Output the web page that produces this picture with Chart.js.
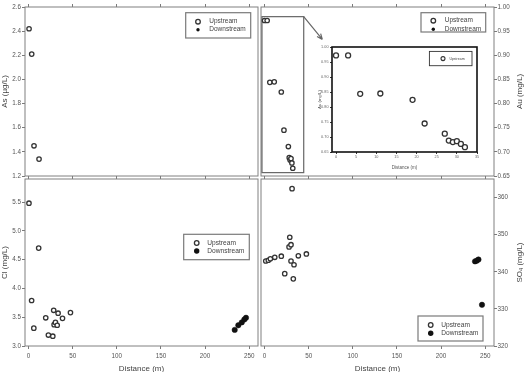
<!DOCTYPE html>
<html><head><meta charset="utf-8">
<script src="https://cdn.jsdelivr.net/npm/chart.js@4.4.0/dist/chart.umd.min.js"></script>
<style>
html,body{margin:0;padding:0;background:#fff;}
#wrap{position:relative;width:526px;height:372px;overflow:hidden;background:#fff;}
#wrap canvas{position:absolute;left:0;top:0;}
</style></head><body>
<div id="wrap">
<canvas id="cTL" width="526" height="372"></canvas>
<canvas id="cTR" width="526" height="372"></canvas>
<canvas id="cBL" width="526" height="372"></canvas>
<canvas id="cBR" width="526" height="372"></canvas>
<canvas id="cIN" width="526" height="372"></canvas>
</div>
<script>
// ---------- DATA ----------
const xTicks = [0, 50, 100, 150, 200, 250];
const insetXTicks = [0, 5, 10, 15, 20, 25, 30, 35];

const asTicks = [1.2, 1.4, 1.6, 1.8, 2.0, 2.2, 2.4, 2.6];
const asUpDist = [0.6, 3.6, 6.2, 11.9];
const asUp = [2.42, 2.21, 1.45, 1.34];

const auTicks = [0.65, 0.70, 0.75, 0.80, 0.85, 0.90, 0.95, 1.00];
const auUpDist = [0, 3, 6, 11, 19, 22, 27, 28, 29, 30, 31, 32];
const auUp = [0.972, 0.972, 0.844, 0.845, 0.824, 0.745, 0.711, 0.688, 0.683, 0.686, 0.677, 0.666];

const clTicks = [3.0, 3.5, 4.0, 4.5, 5.0, 5.5];
const clUpDist = [0.5, 11.5, 3.5, 6, 19.5, 22.5, 27.5, 28.5, 29, 30.5, 32.5, 33.5, 38.5, 47.5];
const clUp = [5.48, 4.70, 3.79, 3.31, 3.49, 3.19, 3.17, 3.62, 3.37, 3.41, 3.36, 3.57, 3.48, 3.58];
const clDownDist = [233.6, 237.7, 241.6, 244.5, 246.4];
const clDown = [3.28, 3.36, 3.41, 3.46, 3.49];

const so4Ticks = [320, 330, 340, 350, 360];
const so4UpDist = [1.4, 4.3, 6.6, 11.6, 19, 22.9, 27.8, 28.6, 30, 30, 31.2, 32.6, 33.4, 38.3, 47.4];
const so4Up = [342.9, 343.1, 343.5, 343.9, 344.2, 339.5, 346.7, 349.3, 347.3, 342.9, 362.4, 338.1, 341.9, 344.3, 344.8];
const so4DownDist = [238.5, 240.5, 242.4, 246.4];
const so4Down = [342.8, 343.0, 343.3, 331.1];

// ---------- SETUP ----------
const FONT = "'Liberation Sans', Arial, Helvetica, sans-serif";
Chart.defaults.font.family = FONT;
Chart.defaults.color = '#555';
const W = 526, H = 372;

function pts(xs, ys) { return xs.map((x, i) => ({x: x, y: ys[i]})); }
function fixSize(n) { return s => { if (s.isHorizontal()) s.height = n; else s.width = n; }; }
function ticksFrom(arr) { return s => { s.ticks = arr.map(v => ({value: v})); }; }

function upSet(label, data, r) {
  return {label, data, pointRadius: r || 2.2, pointHoverRadius: r || 2.2, pointBorderWidth: 1.3,
    pointBorderColor: '#333', pointBackgroundColor: '#fff', borderColor: '#333', backgroundColor: '#fff', showLine: false};
}
function downSet(label, data) {
  return {label, data, pointRadius: 2.7, pointHoverRadius: 2.7, pointBorderWidth: 0.5,
    pointBorderColor: '#111', pointBackgroundColor: '#111', borderColor: '#111', backgroundColor: '#111', showLine: false};
}

// frame around chart area
const framePlugin = {
  id: 'frame',
  beforeDatasetsDraw(chart, args, o) {
    const ca = chart.chartArea, ctx = chart.ctx;
    ctx.save();
    if (o.fill) { ctx.fillStyle = o.fill; ctx.fillRect(ca.left, ca.top, ca.right - ca.left, ca.bottom - ca.top); }
    ctx.strokeStyle = o.color || '#808080';
    ctx.lineWidth = o.width || 1;
    ctx.strokeRect(ca.left, ca.top, ca.right - ca.left, ca.bottom - ca.top);
    ctx.restore();
  }
};

// axis titles (drawn as canvas text)
const titlePlugin = {
  id: 'axisTitles',
  afterDraw(chart, args, o) {
    const ctx = chart.ctx, ca = chart.chartArea;
    (o.items || []).forEach(it => {
      ctx.save();
      ctx.fillStyle = it.color || '#444';
      let cx, cy;
      if (it.axis === 'y') { cx = it.pos; cy = (ca.top + ca.bottom) / 2; }
      else { cx = (ca.left + ca.right) / 2; cy = it.pos; }
      ctx.translate(cx, cy);
      if (it.axis === 'y') ctx.rotate(-Math.PI / 2);
      ctx.textBaseline = 'middle';
      const segs = it.segs || [[it.text, false]];
      const sz = it.size, subSz = sz * 0.7;
      let total = 0;
      segs.forEach(s => { ctx.font = (s[1] ? subSz : sz) + 'px ' + FONT; total += ctx.measureText(s[0]).width; });
      let x = -total / 2;
      ctx.textAlign = 'left';
      segs.forEach(s => {
        ctx.font = (s[1] ? subSz : sz) + 'px ' + FONT;
        ctx.fillText(s[0], x, s[1] ? sz * 0.25 : 0);
        x += ctx.measureText(s[0]).width;
      });
      ctx.restore();
    });
  }
};

// boxed legend inside the plot
const legendPlugin = {
  id: 'boxLegend',
  afterDatasetsDraw(chart, args, o) {
    if (!o.box) return;
    const ca = chart.chartArea, ctx = chart.ctx, b = o.box;
    const x0 = ca.right - b.right - b.w;
    const y0 = (b.top != null) ? ca.top + b.top : ca.bottom - b.bottom - b.h;
    ctx.save();
    ctx.fillStyle = '#fff';
    ctx.fillRect(x0, y0, b.w, b.h);
    ctx.strokeStyle = o.border || '#7a7a7a';
    ctx.lineWidth = o.lw || 1.2;
    ctx.strokeRect(x0, y0, b.w, b.h);
    ctx.font = o.size + 'px ' + FONT;
    ctx.textBaseline = 'middle';
    ctx.textAlign = 'left';
    o.rows.forEach(r => {
      const ds = chart.data.datasets[r.ds];
      const cy = y0 + r.dy;
      ctx.beginPath();
      ctx.arc(x0 + o.mx, cy, r.r, 0, Math.PI * 2);
      if (r.filled) { ctx.fillStyle = '#111'; ctx.fill(); }
      else { ctx.fillStyle = '#fff'; ctx.fill(); ctx.lineWidth = r.lw || 1.3; ctx.strokeStyle = '#333'; ctx.stroke(); }
      ctx.fillStyle = '#444';
      ctx.fillText(ds.label, x0 + o.tx, cy);
    });
    ctx.restore();
  }
};

// zoom box + arrow in Au panel
const zoomPlugin = {
  id: 'zoomBox',
  beforeDatasetsDraw(chart, args, o) {
    if (!o.rect) return;
    const xs = chart.scales.x, ys = chart.scales.y, ctx = chart.ctx;
    const l = xs.getPixelForValue(o.rect.x0), r = xs.getPixelForValue(o.rect.x1);
    const t = ys.getPixelForValue(o.rect.y1), b = ys.getPixelForValue(o.rect.y0);
    const ax = xs.getPixelForValue(o.arrow.x), ay = ys.getPixelForValue(o.arrow.y);
    ctx.save();
    ctx.strokeStyle = '#666';
    ctx.lineWidth = 1.2;
    ctx.strokeRect(l, t, r - l, b - t);
    ctx.beginPath();
    ctx.moveTo(r, t); ctx.lineTo(ax, ay);
    const ang = Math.atan2(ay - t, ax - r), L = 6;
    ctx.moveTo(ax, ay); ctx.lineTo(ax - L * Math.cos(ang - 0.4), ay - L * Math.sin(ang - 0.4));
    ctx.moveTo(ax, ay); ctx.lineTo(ax - L * Math.cos(ang + 0.4), ay - L * Math.sin(ang + 0.4));
    ctx.stroke();
    ctx.restore();
  }
};

Chart.register(framePlugin, titlePlugin, legendPlugin, zoomPlugin);

function makeChart(id, s) {
  const [l, t, r, b] = s.rect;
  const tl = s.tl || 3;
  const yW = s.yW, xH = s.xLabels ? s.xH : 0;
  const grid = {drawOnChartArea: false, drawTicks: true, tickLength: tl, color: s.tickColor || '#7a7a7a', lineWidth: 1};
  const tf = {size: s.tickSize || 6.3, family: FONT};
  const scales = {
    x: {type: 'linear', position: 'bottom', min: s.xMin, max: s.xMax, afterFit: fixSize(xH),
      afterBuildTicks: ticksFrom(s.xTicks), grid, border: {display: false},
      ticks: {display: !!s.xLabels, font: tf, color: s.tickText || '#555', padding: s.xPad != null ? s.xPad : 3,
        maxRotation: 0, autoSkip: false, callback: v => String(v)}},
    y: {type: 'linear', position: s.ySide, min: s.yMin, max: s.yMax, afterFit: fixSize(yW),
      afterBuildTicks: ticksFrom(s.yTicks), grid, border: {display: false},
      ticks: {font: tf, color: s.tickText || '#555', padding: s.yPad != null ? s.yPad : 1, autoSkip: false,
        callback: v => Number(v).toFixed(s.yDec)}}
  };
  if (!s.noTop) {
    scales.x2 = {type: 'linear', position: 'top', min: s.xMin, max: s.xMax, afterFit: fixSize(0),
      afterBuildTicks: ticksFrom(s.xTicks), grid, border: {display: false}, ticks: {display: false}};
  }
  const pad = {
    left: s.ySide === 'left' ? l - yW : l,
    right: s.ySide === 'right' ? W - r - yW : W - r,
    top: t,
    bottom: H - b - xH
  };
  return new Chart(document.getElementById(id), {
    type: 'scatter',
    data: {datasets: s.datasets},
    options: {
      responsive: false, animation: false, devicePixelRatio: 1, events: [],
      layout: {padding: pad},
      scales,
      plugins: Object.assign({legend: {display: false}, tooltip: {enabled: false}}, s.plugins)
    }
  });
}

// ---------- PANELS ----------
makeChart('cTL', {
  rect: [25, 7, 258, 176], xMin: -4, xMax: 260, xTicks: xTicks, xLabels: false,
  yMin: 1.2, yMax: 2.6, yTicks: asTicks, yDec: 1, ySide: 'left', yW: 25,
  datasets: [upSet('Upstream', pts(asUpDist, asUp)), downSet('Downstream', [])],
  plugins: {
    frame: {},
    axisTitles: {items: [{axis: 'y', pos: 4.5, size: 8, text: 'As (µg/L)'}]},
    boxLegend: {box: {right: 7.3, top: 5.7, w: 65, h: 25.3}, size: 6.5, mx: 12.3, tx: 23.6,
      rows: [{ds: 0, dy: 9, r: 2.3}, {ds: 1, dy: 17, r: 1.7, filled: true}]}
  }
});

makeChart('cTR', {
  rect: [261, 7, 494, 176], xMin: -4, xMax: 260, xTicks: xTicks, xLabels: false,
  yMin: 0.65, yMax: 1.00, yTicks: auTicks, yDec: 2, ySide: 'right', yPad: 0.5, yW: 32,
  datasets: [upSet('Upstream', pts(auUpDist, auUp)), downSet('Downstream', [])],
  plugins: {
    frame: {},
    axisTitles: {items: [{axis: 'y', pos: 519.5, size: 8, text: 'Au (mg/L)'}]},
    boxLegend: {box: {right: 8.3, top: 5.7, w: 64.7, h: 19.3}, size: 6.5, mx: 12.3, tx: 23.7,
      rows: [{ds: 0, dy: 8, r: 2.3}, {ds: 1, dy: 16.6, r: 1.7, filled: true}]},
    zoomBox: {rect: {x0: -2.9, x1: 44.4, y0: 0.657, y1: 0.98}, arrow: {x: 65.5, y: 0.933}}
  }
});

makeChart('cBL', {
  rect: [25, 179, 258, 346], xMin: -4, xMax: 260, xTicks: xTicks, xLabels: true, xH: 26,
  yMin: 3.0, yMax: 5.9, yTicks: clTicks, yDec: 1, ySide: 'left', yW: 25,
  datasets: [upSet('Upstream', pts(clUpDist, clUp)), downSet('Downstream', pts(clDownDist, clDown))],
  plugins: {
    frame: {},
    axisTitles: {items: [{axis: 'y', pos: 4.5, size: 8, text: 'Cl (mg/L)'},
                         {axis: 'x', pos: 368.5, size: 8, text: 'Distance (m)'}]},
    boxLegend: {box: {right: 8.7, top: 55.3, w: 65.6, h: 25.4}, size: 6.6, mx: 13, tx: 23.6,
      rows: [{ds: 0, dy: 8.7, r: 2.3}, {ds: 1, dy: 16.7, r: 2.7, filled: true}]}
  }
});

makeChart('cBR', {
  rect: [261, 179, 494, 346], xMin: -4, xMax: 260, xTicks: xTicks, xLabels: true, xH: 26,
  yMin: 320, yMax: 365, yTicks: so4Ticks, yDec: 0, ySide: 'right', yPad: 0.5, yW: 32,
  datasets: [upSet('Upstream', pts(so4UpDist, so4Up)), downSet('Downstream', pts(so4DownDist, so4Down))],
  plugins: {
    frame: {},
    axisTitles: {items: [{axis: 'y', pos: 519.5, size: 8, segs: [['SO', false], ['4', true], [' (mg/L)', false]]},
                         {axis: 'x', pos: 368.5, size: 8, text: 'Distance (m)'}]},
    boxLegend: {box: {right: 11, bottom: 5, w: 65, h: 25}, size: 6.6, mx: 12.7, tx: 23.3,
      rows: [{ds: 0, dy: 9, r: 2.3}, {ds: 1, dy: 17.3, r: 2.7, filled: true}]}
  }
});

// inset (zoomed Au)
makeChart('cIN', {
  rect: [332, 47, 477, 152], xMin: -1, xMax: 35, xTicks: insetXTicks, xLabels: true, xH: 9, noTop: true,
  yMin: 0.65, yMax: 1.00, yTicks: auTicks, yDec: 2, ySide: 'left', yW: 11,
  tl: 2, tickSize: 3.8, xPad: 1, yPad: 1.5, tickColor: '#333', tickText: '#666',
  datasets: [upSet('Upstream', pts(auUpDist, auUp), 2.5)],
  plugins: {
    frame: {color: '#111', width: 1.6, fill: '#fff'},
    axisTitles: {items: [{axis: 'y', pos: 320, size: 4.3, text: 'Au (mg/L)', color: '#555'},
                         {axis: 'x', pos: 167.7, size: 4.5, text: 'Distance (m)', color: '#555'}]},
    boxLegend: {box: {right: 5, top: 4.4, w: 42.6, h: 14.3}, size: 3.5, mx: 13.6, tx: 20, border: '#333', lw: 0.9,
      rows: [{ds: 0, dy: 7.2, r: 2, lw: 1.1}]}
  }
});
</script>
</body></html>
